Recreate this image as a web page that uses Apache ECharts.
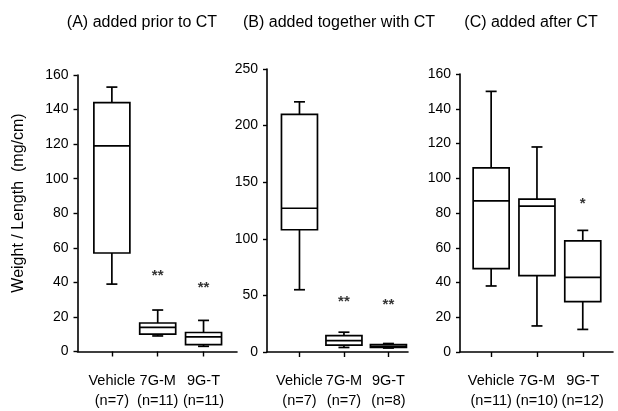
<!DOCTYPE html>
<html>
<head>
<meta charset="utf-8">
<script src="https://cdn.jsdelivr.net/npm/echarts@6/dist/echarts.min.js"></script>
<style>
html,body{margin:0;padding:0;background:#fff;}
#chart{width:618px;height:411px;}
</style>
</head>
<body>
<div id="chart"></div>
<script>
// ---- data ----
const categories = ['Vehicle', '7G-M', '9G-T'];
const panelTitles = ['(A) added prior to CT', '(B) added together with CT', '(C) added after CT'];
const nA = ['(n=7)', '(n=11)', '(n=11)'];
const nB = ['(n=7)', '(n=7)', '(n=8)'];
const nC = ['(n=11)', '(n=10)', '(n=12)'];
// [min, Q1, median, Q3, max] per category
const boxA = [[39, 57, 119, 144, 153], [9, 10, 14, 16.5, 24], [3, 4, 8.5, 11, 18]];
const boxB = [[55, 108, 127, 210, 221], [4, 6, 10, 14.5, 17.5], [3.5, 4, 5, 6.5, 7.5]];
const boxC = [[38, 48, 87, 106, 150], [15, 44, 84, 88, 118], [13, 29, 43, 64, 70]];
// significance marks and the value they sit at
const starsA = ['', '**', '**'];
const starYA = [null, 44, 37];
const starsB = ['', '**', '**'];
const starYB = [null, 44, 42];
const starsC = ['', '', '*'];
const starYC = [null, null, 85];
// y axis ticks
const yTicksA = {min: 0, max: 160, interval: 20};
const yTicksB = {min: 0, max: 250, interval: 50};
const yTicksC = {min: 0, max: 160, interval: 20};
const yAxisName = 'Weight / Length  (mg/cm)';

// ---- chart ----
const FONT = '"Liberation Sans", Arial, Helvetica, sans-serif';
const grids = [
  {left: 77.5, top: 75, width: 159.5, height: 276.5},
  {left: 267, top: 69, width: 141, height: 284},
  {left: 460, top: 74, width: 153, height: 278.5}
];
const xRanges = [[0.25, 3.73], [0.27, 3.44], [0.32, 3.66]];
const nLabels = [nA, nB, nC];
const boxes = [boxA, boxB, boxC];
const stars = [starsA, starsB, starsC];
const starYs = [starYA, starYB, starYC];
const yTicks = [yTicksA, yTicksB, yTicksC];
const titleCenters = [137, 334, 526];

function renderBox(params, api) {
  const x = api.value(0);
  const lo = api.coord([x, api.value(1)]);
  const q1 = api.coord([x, api.value(2)]);
  const md = api.coord([x, api.value(3)]);
  const q3 = api.coord([x, api.value(4)]);
  const hi = api.coord([x, api.value(5)]);
  const cx = lo[0], hw = 18, cw = 5.5;
  const st = () => ({stroke: '#000', fill: '#fff', lineWidth: 1.7});
  return {
    type: 'group',
    children: [
      {type: 'line', shape: {x1: cx, y1: q3[1], x2: cx, y2: hi[1]}, style: st()},
      {type: 'line', shape: {x1: cx, y1: q1[1], x2: cx, y2: lo[1]}, style: st()},
      {type: 'line', shape: {x1: cx - cw, y1: hi[1], x2: cx + cw, y2: hi[1]}, style: st()},
      {type: 'line', shape: {x1: cx - cw, y1: lo[1], x2: cx + cw, y2: lo[1]}, style: st()},
      {type: 'rect', shape: {x: cx - hw, y: q3[1], width: 2 * hw, height: q1[1] - q3[1]}, style: st()},
      {type: 'line', shape: {x1: cx - hw, y1: md[1], x2: cx + hw, y2: md[1]}, style: st()}
    ]
  };
}

const xAxes = [], yAxes = [], series = [], titles = [];
for (let p = 0; p < 3; p++) {
  const labels = nLabels[p];
  xAxes.push({
    type: 'value', gridIndex: p, min: xRanges[p][0], max: xRanges[p][1],
    axisLine: {onZero: false, lineStyle: {color: '#000', width: 1.6}},
    axisTick: {show: true, customValues: [1, 2, 3], length: 5, lineStyle: {color: '#000', width: 1.4}},
    splitLine: {show: false},
    axisLabel: {
      customValues: [1, 2, 3], margin: 19, color: '#000', fontFamily: FONT, fontSize: 14.5, lineHeight: 20,
      hideOverlap: false, showMinLabel: true, showMaxLabel: true,
      formatter: v => categories[Math.round(v) - 1] + '\n' + labels[Math.round(v) - 1]
    }
  });
  yAxes.push({
    type: 'value', gridIndex: p, min: yTicks[p].min, max: yTicks[p].max, interval: yTicks[p].interval,
    axisLine: {show: true, onZero: false, lineStyle: {color: '#000', width: 1.6}},
    axisTick: {show: true, length: 4, lineStyle: {color: '#000', width: 1.4}},
    splitLine: {show: false},
    axisLabel: {margin: 9, color: '#000', fontFamily: FONT, fontSize: 14, hideOverlap: false,
      showMinLabel: true, showMaxLabel: true}
  });
  series.push({
    type: 'custom', xAxisIndex: p, yAxisIndex: p, clip: false,
    renderItem: renderBox,
    encode: {x: 0, y: [1, 2, 3, 4, 5]},
    data: boxes[p].map((b, i) => [i + 1].concat(b))
  });
  const sd = [];
  stars[p].forEach((s, i) => { if (s) sd.push({value: [i + 1, starYs[p][i]], mark: s}); });
  series.push({
    type: 'scatter', xAxisIndex: p, yAxisIndex: p, symbolSize: 1,
    itemStyle: {color: 'rgba(0,0,0,0)'},
    label: {show: true, position: 'inside', color: '#000', fontFamily: FONT, fontSize: 15, fontWeight: 'bold',
      formatter: prm => prm.data.mark},
    data: sd
  });
  titles.push({
    text: panelTitles[p], left: titleCenters[p], top: 10, textAlign: 'center',
    textStyle: {fontFamily: FONT, fontSize: 16, fontWeight: 'normal', color: '#000'}
  });
}

const chart = echarts.init(document.getElementById('chart'), null, {renderer: 'canvas'});
chart.setOption({
  animation: false,
  backgroundColor: '#fff',
  title: titles,
  grid: grids,
  xAxis: xAxes,
  yAxis: yAxes,
  series: series,
  graphic: [{
    type: 'text', x: 19, y: 203, rotation: Math.PI / 2,
    style: {text: yAxisName, fontFamily: FONT, fontSize: 16, fill: '#000', align: 'center', verticalAlign: 'middle'}
  }]
});
</script>
</body>
</html>
